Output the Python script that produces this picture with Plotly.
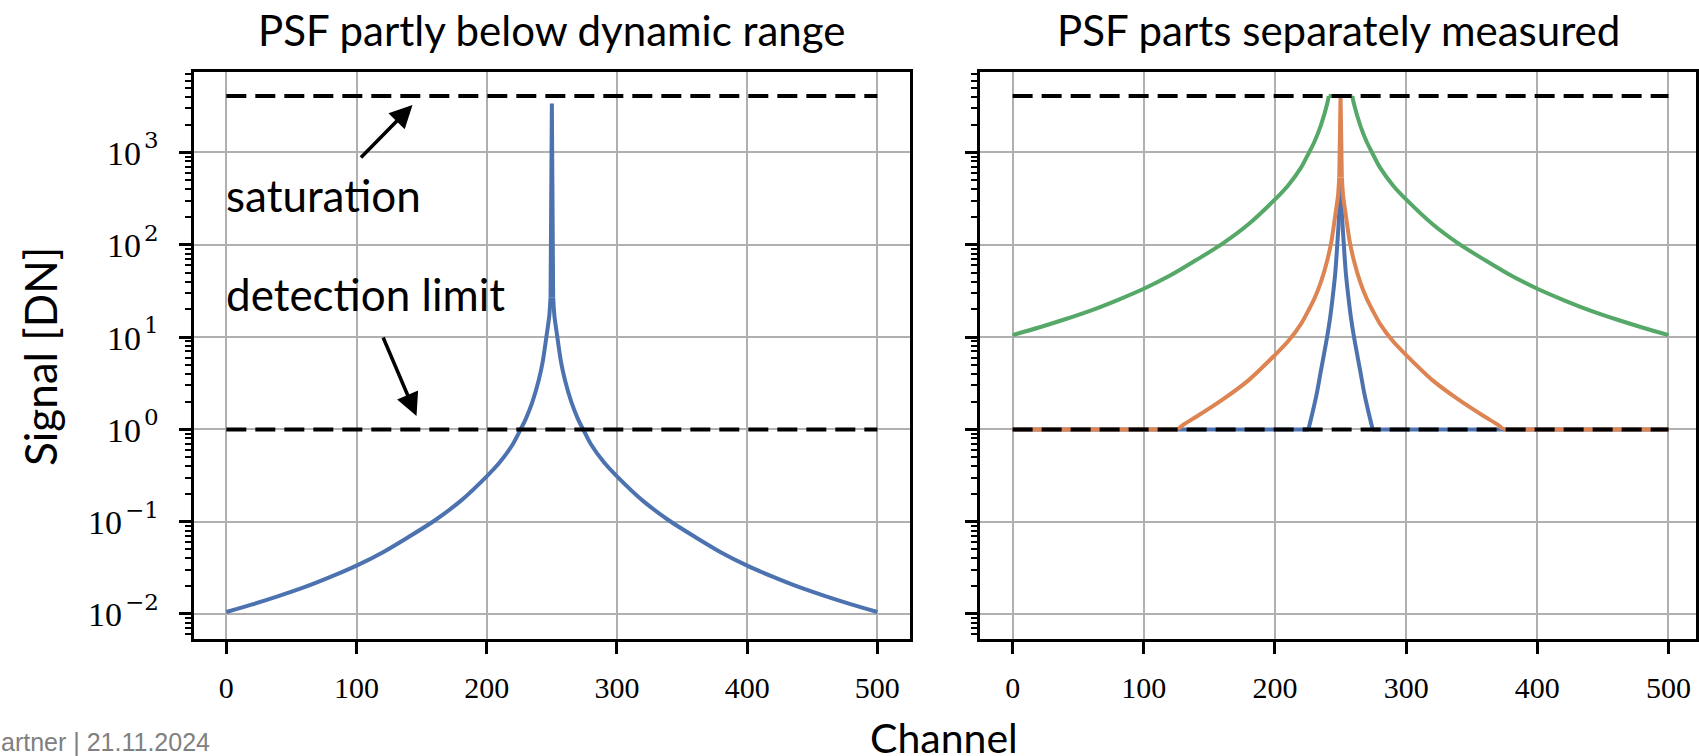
import plotly.graph_objects as go

# ---------------- data ----------------
# Left panel: full PSF (left wing, central spike, right wing)
wing_l_ch = [0, 20, 40, 60, 80, 100, 120, 140, 160, 180, 200, 210, 220, 226, 230, 235, 240, 243, 246, 248, 249]
wing_l_val = [0.0105, 0.0127, 0.0156, 0.0195, 0.0252, 0.0334, 0.0464, 0.0683, 0.103, 0.168, 0.31, 0.44, 0.69, 1.0, 1.30, 1.97, 3.45, 5.42, 10.5, 16.8, 26.9]
spike_ch = [249, 250, 251]
spike_val = [26.9, 3400, 26.9]
wing_r_ch = [251, 252, 254, 257, 260, 265, 270, 274, 280, 290, 300, 320, 340, 360, 380, 400, 420, 440, 460, 480, 500]
wing_r_val = [26.9, 16.8, 10.5, 5.42, 3.45, 1.97, 1.30, 1.0, 0.69, 0.44, 0.31, 0.168, 0.103, 0.0683, 0.0464, 0.0334, 0.0252, 0.0195, 0.0156, 0.0127, 0.0105]

# Right panel, blue: short exposure, clipped at detection limit
blue_flat_l_ch, blue_flat_l_val = [0, 225.5], [1, 1]
blue_up_ch = [225.5, 227, 229, 232, 235, 238, 240, 242, 244, 246, 247.5, 249, 250]
blue_up_val = [1, 1.22, 1.6, 2.5, 4.3, 7.3, 10.5, 16, 27, 50, 100, 220, 465]
blue_down_ch = [250, 251, 252.5, 254, 256, 258, 260, 262, 265, 268, 271, 273, 274.5]
blue_down_val = [465, 220, 100, 50, 27, 16, 10.5, 7.3, 4.3, 2.5, 1.6, 1.22, 1]
blue_flat_r_ch, blue_flat_r_val = [274.5, 500], [1, 1]

# Right panel, orange: medium exposure, clipped at both limits
orange_flat_l_ch, orange_flat_l_val = [0, 126], [1, 1]
orange_up_ch = [126, 130, 140, 160, 180, 200, 210, 220, 226, 230, 235, 240, 243, 246, 248, 249]
orange_up_val = [1, 1.12, 1.37, 2.1, 3.42, 6.4, 9.0, 14.0, 20, 26, 39.4, 69, 108, 210, 336, 538]
orange_spike_ch, orange_spike_val = [249, 250, 251], [538, 4095, 538]
orange_down_ch = [251, 252, 254, 257, 260, 265, 270, 274, 280, 290, 300, 320, 340, 360, 370, 374]
orange_down_val = [538, 336, 210, 108, 69, 39.4, 26, 20, 14.0, 9.0, 6.4, 3.42, 2.1, 1.37, 1.12, 1]
orange_flat_r_ch, orange_flat_r_val = [374, 500], [1, 1]

# Right panel, green: long exposure, clipped at saturation
green_up_ch = [0, 20, 40, 60, 80, 100, 120, 140, 160, 180, 200, 210, 220, 226, 230, 235, 240, 241]
green_up_val = [10.5, 12.7, 15.6, 19.5, 25.2, 33.4, 46.4, 68.3, 103, 168, 310, 440, 690, 1000, 1300, 1970, 3450, 4095]
green_flat_ch, green_flat_val = [241, 259], [4095, 4095]
green_down_ch = [259, 260, 265, 270, 274, 280, 290, 300, 320, 340, 360, 380, 400, 420, 440, 460, 480, 500]
green_down_val = [4095, 3450, 1970, 1300, 1000, 690, 440, 310, 168, 103, 68.3, 46.4, 33.4, 25.2, 19.5, 15.6, 12.7, 10.5]

limit_channels = [0, 500]
saturation_level = [4095, 4095]
detection_level = [1, 1]

x_ticks = [0, 100, 200, 300, 400, 500]
y_tick_exponents = [-2, -1, 0, 1, 2, 3]
y_tick_base = "10"
y_tick_sup = ["\u22122", "\u22121", "0", "1", "2", "3"]
y_ticks = [10.0 ** e for e in y_tick_exponents]
y_minor = [m * 10 ** k for k in range(-3, 4) for m in range(2, 10)]

titles = ["PSF partly below dynamic range", "PSF parts separately measured"]

# ---------------- style ----------------
W, H = 1699, 756
BLUE, ORANGE, GREEN = "#4C72B0", "#DD8452", "#55A868"
SANS = "Lato, 'Open Sans', sans-serif"
SERIF = "'Liberation Serif', 'DejaVu Serif', serif"
SUP_FONT = "'DejaVu Serif', serif"
LW = 4


def px_x(p):
    return p / W


def px_y(p):
    return 1 - p / H


fig = go.Figure()


def add_line(xs, ys, color, ax, smooth):
    fig.add_trace(go.Scatter(x=xs, y=ys, mode="lines",
                             line=dict(color=color, width=LW, shape="spline" if smooth else "linear",
                                       smoothing=0.8),
                             xaxis=ax, yaxis=ax.replace("x", "y"), showlegend=False, hoverinfo="skip"))


def add_limits(ax):
    for lvl in (saturation_level, detection_level):
        fig.add_trace(go.Scatter(x=limit_channels, y=lvl, mode="lines",
                                 line=dict(color="black", width=4, dash="20px,9px"),
                                 xaxis=ax, yaxis=ax.replace("x", "y"), showlegend=False, hoverinfo="skip"))


# left panel
add_line(wing_l_ch, wing_l_val, BLUE, "x", True)
add_line(spike_ch, spike_val, BLUE, "x", False)
add_line(wing_r_ch, wing_r_val, BLUE, "x", True)
add_limits("x")

# right panel
add_line(blue_flat_l_ch, blue_flat_l_val, BLUE, "x2", False)
add_line(blue_up_ch, blue_up_val, BLUE, "x2", True)
add_line(blue_down_ch, blue_down_val, BLUE, "x2", True)
add_line(blue_flat_r_ch, blue_flat_r_val, BLUE, "x2", False)
add_line(orange_flat_l_ch, orange_flat_l_val, ORANGE, "x2", False)
add_line(orange_up_ch, orange_up_val, ORANGE, "x2", True)
add_line(orange_spike_ch, orange_spike_val, ORANGE, "x2", False)
add_line(orange_down_ch, orange_down_val, ORANGE, "x2", True)
add_line(orange_flat_r_ch, orange_flat_r_val, ORANGE, "x2", False)
add_line(green_up_ch, green_up_val, GREEN, "x2", True)
add_line(green_flat_ch, green_flat_val, GREEN, "x2", False)
add_line(green_down_ch, green_down_val, GREEN, "x2", True)
add_limits("x2")

xaxis_common = dict(tickvals=x_ticks, ticks="outside", ticklen=12, tickwidth=2.5,
                    tickcolor="black", showline=True, mirror=True, linecolor="black", linewidth=3,
                    showgrid=True, gridcolor="#b0b0b0", gridwidth=2, zeroline=False,
                    tickfont=dict(family=SERIF, size=30, color="black"), ticklabelstandoff=8)
yaxis_common = dict(type="log", range=[-2.271, 3.872], tickvals=y_ticks, showticklabels=False,
                    ticks="outside", ticklen=12, tickwidth=2.5, tickcolor="black",
                    showline=True, mirror=True, linecolor="black", linewidth=3,
                    showgrid=True, gridcolor="#b0b0b0", gridwidth=2, zeroline=False,
                    minor=dict(tickmode="array", tickvals=y_minor, ticks="outside", ticklen=6,
                               tickwidth=2, tickcolor="black", showgrid=False),
                    domain=[px_y(639), px_y(72)])

fig.update_layout(
    width=W, height=H, margin=dict(l=0, r=0, t=0, b=0),
    paper_bgcolor="white", plot_bgcolor="white",
    xaxis=dict(domain=[px_x(194), px_x(911)], anchor="y", range=[-25, 525], **xaxis_common),
    xaxis2=dict(domain=[px_x(981), px_x(1698)], anchor="y2", range=[-25, 521], **xaxis_common),
    yaxis=dict(anchor="x", **yaxis_common),
    yaxis2=dict(anchor="x2", matches="y", **yaxis_common),
)


def text_ann(text, x, y, size, xanchor="center", angle=0):
    return dict(text=text, x=px_x(x), y=px_y(y), xref="paper", yref="paper", showarrow=False,
                textangle=angle, font=dict(family=SANS, size=size, color="black"),
                xanchor=xanchor, yanchor="middle")


ann = [
    text_ann(titles[0], 552, 30, 42),
    text_ann(titles[1], 1340, 30, 42),
    text_ann("Channel", 945, 737, 41),
    text_ann("Signal [DN]", 40, 356, 44, angle=-90),
    text_ann("saturation", 224, 195, 44, xanchor="left"),
    text_ann("detection limit", 224, 294, 44, xanchor="left"),
]

# y tick labels: "10" with a large superscript exponent (mathtext style)
LABEL_RIGHT = 161
SUP_SIZE, BASE_SIZE = 23, 34
for e, sup in zip(y_tick_exponents, y_tick_sup):
    neg = sup.startswith("\u2212")
    sup_w = 0.636 * SUP_SIZE + (0.838 * SUP_SIZE if neg else 0)
    ann.append(dict(text=sup, x=px_x(LABEL_RIGHT), y=e, xref="paper", yref="y", showarrow=False,
                    font=dict(family=SUP_FONT, size=SUP_SIZE, color="black"), xanchor="right", yanchor="middle",
                    yshift=12))
    ann.append(dict(text=y_tick_base, x=px_x(LABEL_RIGHT - sup_w - 3), y=e, xref="paper", yref="y",
                    showarrow=False, font=dict(family=SERIF, size=BASE_SIZE, color="black"),
                    xanchor="right", yanchor="middle", yshift=-1))

# arrows
ann.append(dict(text="", x=px_x(413), y=px_y(105), xref="paper", yref="paper", showarrow=True,
                ax=-53, ay=54, axref="pixel", ayref="pixel", arrowhead=2, arrowsize=1.3, arrowwidth=3.5,
                arrowcolor="black", standoff=0, startstandoff=0))
ann.append(dict(text="", x=px_x(417), y=px_y(416), xref="paper", yref="paper", showarrow=True,
                ax=-34, ay=-80, axref="pixel", ayref="pixel", arrowhead=2, arrowsize=1.3, arrowwidth=3.5,
                arrowcolor="black", standoff=0, startstandoff=0))
# footer
ann.append(dict(text="artner | 21.11.2024", x=px_x(-1), y=px_y(742), xref="paper", yref="paper",
                showarrow=False, font=dict(family="'Liberation Sans', Arial, sans-serif", size=25, color="#808080"),
                xanchor="left", yanchor="middle"))
fig.update_layout(annotations=ann)

fig.write_html("out.html")
